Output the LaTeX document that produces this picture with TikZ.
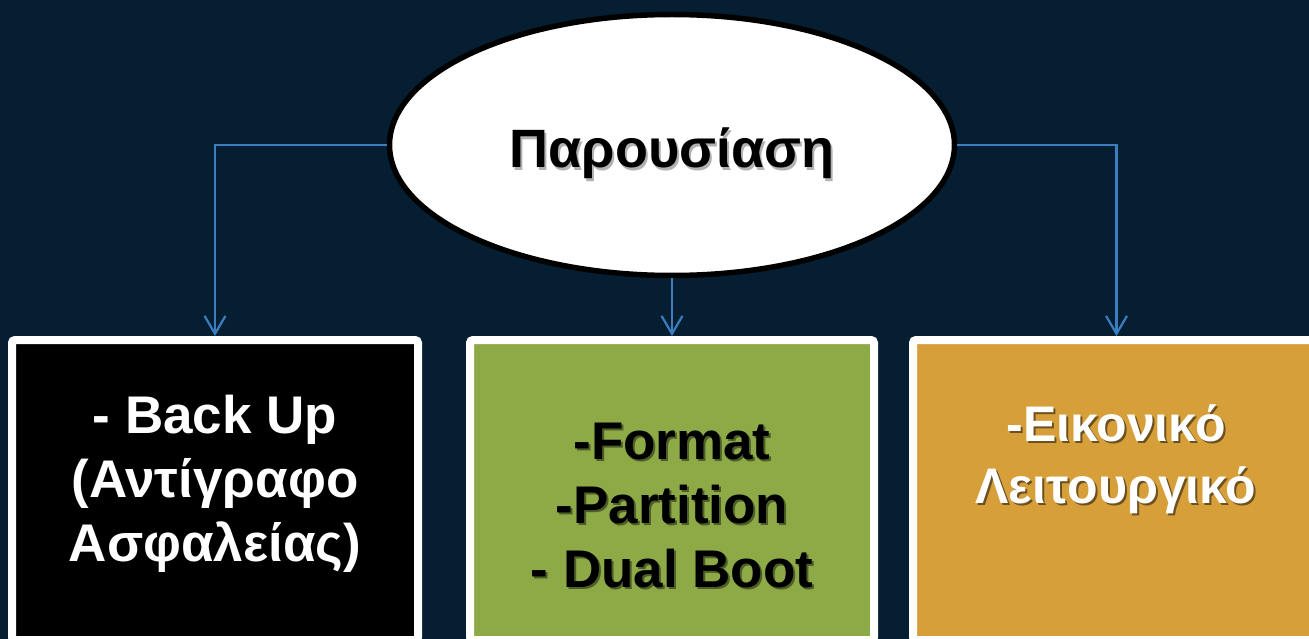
\documentclass[tikz,border=0pt]{standalone}
\usepackage{fontspec}
\setmainfont{Liberation Sans}
\usetikzlibrary{shapes.geometric,arrows.meta}
\definecolor{navybg}{HTML}{051E31}
\definecolor{linkblue}{HTML}{3A7DC0}
\definecolor{olivebox}{HTML}{8DAA46}
\definecolor{ochrebox}{HTML}{D79F3A}
% text with a soft drop shadow
\newcommand{\shd}[2]{\makebox[0pt][l]{\kern2pt\raisebox{-2pt}{\textcolor{#1}{#2}}}#2}
\begin{document}
\begin{tikzpicture}[x=1pt,y=-1pt,
  box/.style={shape=rectangle, draw=white, line width=8pt, rounded corners=3pt,
    minimum height=300pt, inner sep=0pt},
  boxtext/.style={align=center, inner sep=0pt, font=\bfseries\fontsize{53}{64}\selectfont},
  conn/.style={draw=linkblue, line width=2.2pt,
    -{Straight Barb[length=18pt,width=21pt]}}
]
  \fill[navybg] (0,0) rectangle (1309,639);
  \useasboundingbox (0,0) rectangle (1309,639);

  \node[ellipse, draw=black, fill=white, line width=5.5pt, inner sep=0pt,
    minimum width=565pt, minimum height=261pt,
    font=\bfseries\fontsize{54}{60}\selectfont] (pres) at (672,145)
    {\raisebox{0pt}[46pt][0pt]{\shd{black!30}{Παρουσίαση}}};

  \node[box, fill=black, minimum width=406pt] (backup) at (215,490) {};
  \node[box, fill=olivebox, minimum width=404pt] (format) at (672,490) {};
  \node[box, fill=ochrebox, minimum width=407pt] (virt) at (1116.5,490) {};

  \node[boxtext, text=white] (backuptxt) at (215,484)
    {- Back Up\\(Αντίγραφο\\Ασφαλείας)};
  \node[boxtext, text=black] (formattxt) at (672,507)
    {\shd{olivebox!55!black}{-Format}\\\shd{olivebox!55!black}{-Partition}\\\shd{olivebox!55!black}{- Dual Boot}};
  \node[boxtext, text=white, font=\bfseries\fontsize{50}{62}\selectfont] (virttxt) at (1116,460)
    {\shd{ochrebox!50!black}{-Εικονικό}\\\shd{ochrebox!50!black}{Λειτουργικό}};

  \draw[conn] (pres.west) -| (backup.north);
  \draw[conn] (pres.south) -- (format.north);
  \draw[conn] (pres.east) -| (virt.north);
\end{tikzpicture}
\end{document}
